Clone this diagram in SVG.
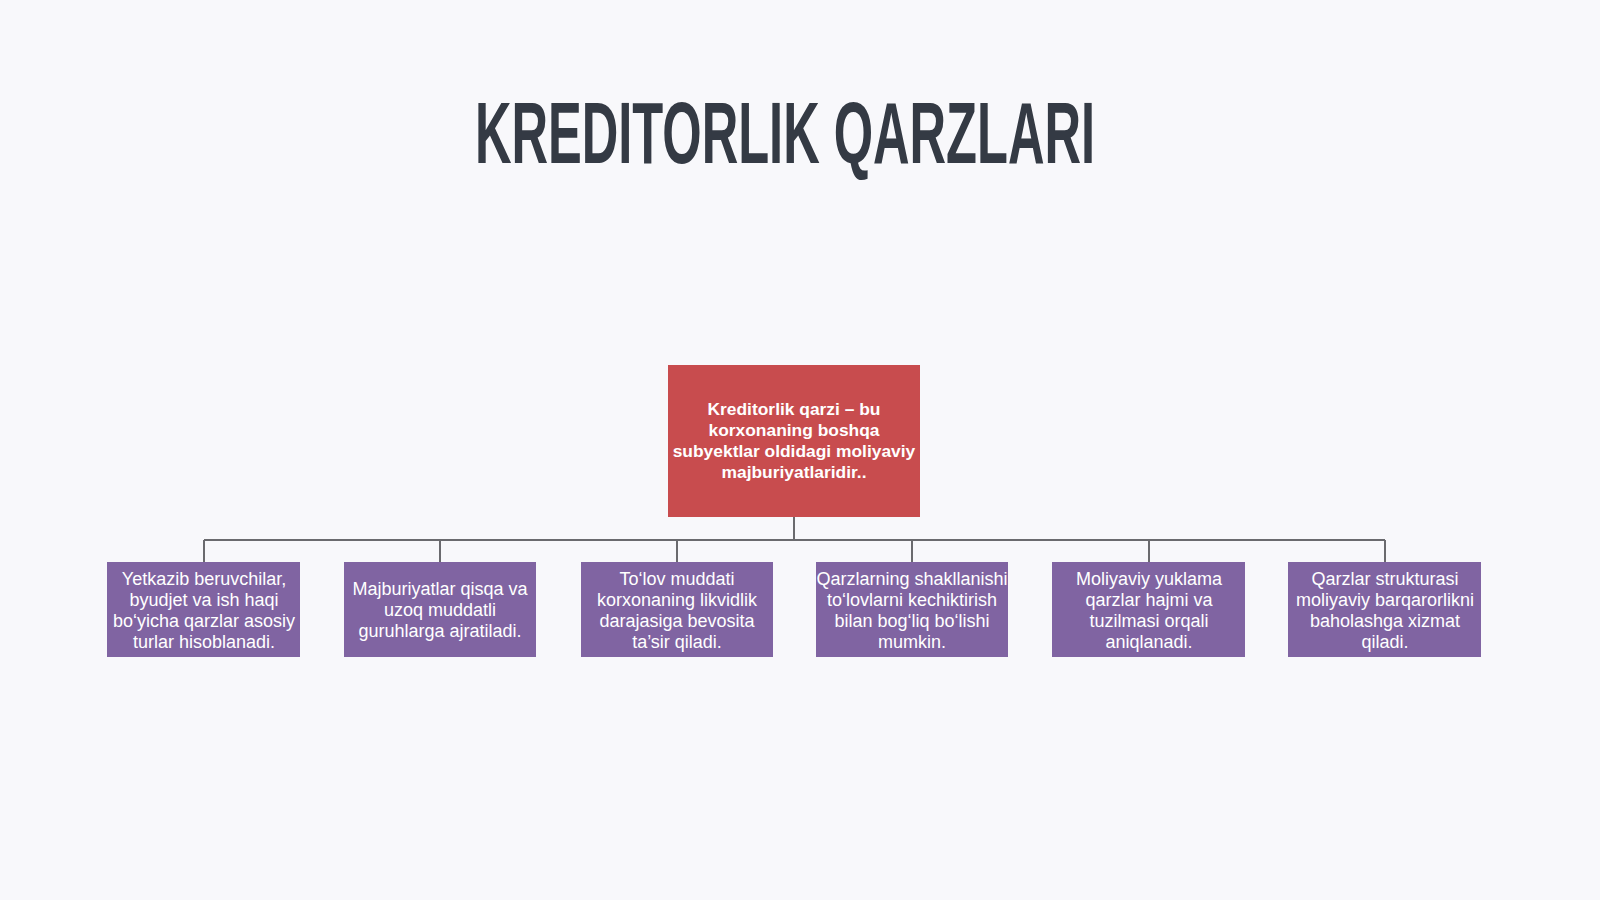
<svg xmlns="http://www.w3.org/2000/svg" width="1600" height="900" viewBox="0 0 1600 900">
<style>
.title{font-family:"Liberation Sans Narrow","Liberation Sans",sans-serif;font-weight:bold;font-size:88px;fill:#343a44;}
.root{fill:#c84c4e;}
.leaf{fill:#8064a2;}
.rt{font-family:"Liberation Sans",sans-serif;font-weight:bold;font-size:17.4px;fill:#ffffff;text-anchor:middle;}
.lt{font-family:"Liberation Sans",sans-serif;font-size:18px;fill:#ffffff;text-anchor:middle;}
.conn{stroke:#6a6a6e;stroke-width:2;fill:none;}
</style>
<rect width="1600" height="900" fill="#f8f8fb"/>
<text class="title" x="785" y="163" text-anchor="middle" textLength="620" lengthAdjust="spacingAndGlyphs">KREDITORLIK QARZLARI</text>
<g id="connectors">
<path class="conn" d="M794 517V540M204 540H1385M204 540V562M440 540V562M677 540V562M912 540V562M1149 540V562M1385 540V562"/>
</g>
<g id="root">
<rect class="root" x="668" y="365" width="252" height="152"/>
<text class="rt"><tspan x="794" y="415">Kreditorlik qarzi – bu</tspan><tspan x="794" y="436">korxonaning boshqa</tspan><tspan x="794" y="457">subyektlar oldidagi moliyaviy</tspan><tspan x="794" y="478">majburiyatlaridir..</tspan></text>
</g>
<g id="n1">
<rect class="leaf" x="107" y="562" width="193" height="95"/>
<text class="lt"><tspan x="204" y="585">Yetkazib beruvchilar,</tspan><tspan x="204" y="606">byudjet va ish haqi</tspan><tspan x="204" y="627">bo‘yicha qarzlar asosiy</tspan><tspan x="204" y="648">turlar hisoblanadi.</tspan></text>
</g>
<g id="n2">
<rect class="leaf" x="344" y="562" width="192" height="95"/>
<text class="lt"><tspan x="440" y="595">Majburiyatlar qisqa va</tspan><tspan x="440" y="616">uzoq muddatli</tspan><tspan x="440" y="637">guruhlarga ajratiladi.</tspan></text>
</g>
<g id="n3">
<rect class="leaf" x="581" y="562" width="192" height="95"/>
<text class="lt"><tspan x="677" y="585">To‘lov muddati</tspan><tspan x="677" y="606">korxonaning likvidlik</tspan><tspan x="677" y="627">darajasiga bevosita</tspan><tspan x="677" y="648">ta’sir qiladi.</tspan></text>
</g>
<g id="n4">
<rect class="leaf" x="816" y="562" width="192" height="95"/>
<text class="lt"><tspan x="912" y="585">Qarzlarning shakllanishi</tspan><tspan x="912" y="606">to‘lovlarni kechiktirish</tspan><tspan x="912" y="627">bilan bog‘liq bo‘lishi</tspan><tspan x="912" y="648">mumkin.</tspan></text>
</g>
<g id="n5">
<rect class="leaf" x="1052" y="562" width="193" height="95"/>
<text class="lt"><tspan x="1149" y="585">Moliyaviy yuklama</tspan><tspan x="1149" y="606">qarzlar hajmi va</tspan><tspan x="1149" y="627">tuzilmasi orqali</tspan><tspan x="1149" y="648">aniqlanadi.</tspan></text>
</g>
<g id="n6">
<rect class="leaf" x="1288" y="562" width="193" height="95"/>
<text class="lt"><tspan x="1385" y="585">Qarzlar strukturasi</tspan><tspan x="1385" y="606">moliyaviy barqarorlikni</tspan><tspan x="1385" y="627">baholashga xizmat</tspan><tspan x="1385" y="648">qiladi.</tspan></text>
</g>
</svg>
